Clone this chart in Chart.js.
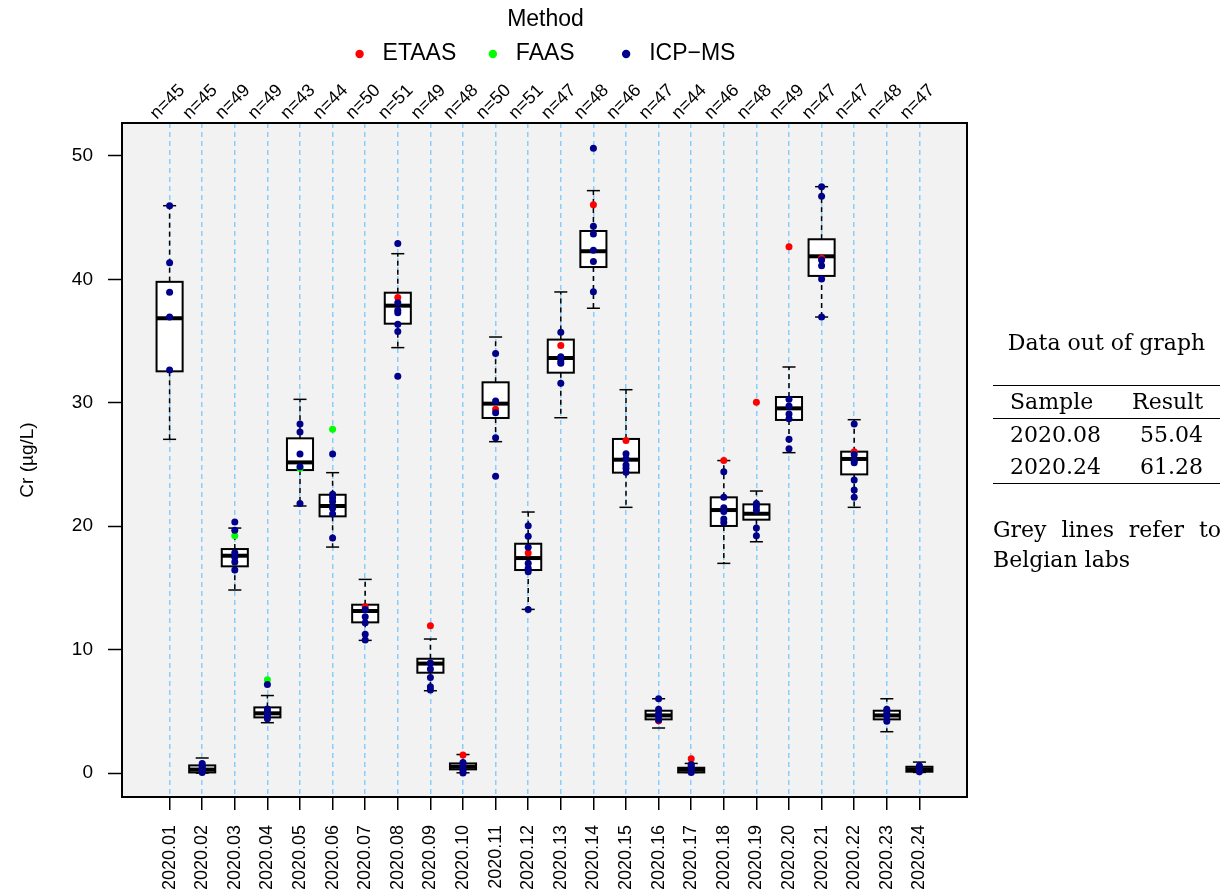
<!DOCTYPE html>
<html>
<head>
<meta charset="utf-8">
<script src="https://cdn.jsdelivr.net/npm/chart.js@4/dist/chart.umd.min.js"></script>
<style>
  html, body { margin: 0; padding: 0; background: #fff; }
  #wrap { position: relative; width: 1224px; height: 890px; }
  #crChart { position: absolute; left: 0; top: 0; }
  .side { position: absolute; font-family: "DejaVu Serif", serif; font-size: 22px; color: #000; }
  #sideTitle { left: 993px; top: 328px; width: 227px; line-height: 30px; text-align: center; }
  #outTable { left: 993px; top: 385px; width: 227px; border-collapse: collapse;
              border-top: 1.6px solid #000; border-bottom: 1.6px solid #000; line-height: 30px; }
  #outTable th, #outTable td { padding: 0; height: 32px; font-weight: normal; }
  #outTable thead th { border-bottom: 1px solid #000; }
  #outTable .c1 { text-align: left; padding-left: 17px; }
  #outTable .c2 { text-align: right; padding-right: 17px; }
  #note { left: 993px; top: 515px; width: 228px; line-height: 30px; text-align: justify; }
  #fontWarm { position: absolute; left: -1000px; top: 0; font-family: "Liberation Sans"; }
</style>
</head>
<body>
<div id="wrap">
  <canvas id="crChart" width="1224" height="890"></canvas>
  <div class="side" id="sideTitle">Data out of graph</div>
  <table class="side" id="outTable">
    <thead><tr><th class="c1">Sample</th><th class="c2">Result</th></tr></thead>
    <tbody id="outBody"></tbody>
  </table>
  <div class="side" id="note">Grey lines refer to Belgian labs</div>
  <span id="fontWarm">Method 2020.01</span>
</div>
<script>
// samples and number of labs
const categories = ['2020.01', '2020.02', '2020.03', '2020.04', '2020.05', '2020.06', '2020.07', '2020.08',
                    '2020.09', '2020.10', '2020.11', '2020.12', '2020.13', '2020.14', '2020.15', '2020.16',
                    '2020.17', '2020.18', '2020.19', '2020.20', '2020.21', '2020.22', '2020.23', '2020.24'];
const nLabs = [45, 45, 49, 49, 43, 44, 50, 51, 49, 48, 50, 51, 47, 48, 46, 47, 44, 46, 48, 49, 47, 47, 48, 47];
const yTicks = [0, 10, 20, 30, 40, 50];

// box statistics (µg/L)
const whiskerLow  = [27.04, 0.00, 14.83, 4.08, 21.64, 18.31, 10.75, 34.47, 6.67, 0.02, 26.85, 13.26,
                     28.79, 37.66, 21.53, 3.65, 0.05, 16.99, 18.74, 25.96, 36.95, 21.53, 3.35, 0.05];
const q1          = [32.55, 0.05, 16.75, 4.51, 24.55, 20.80, 12.21, 36.41, 8.13, 0.30, 28.77, 16.45,
                     32.44, 41.00, 24.34, 4.35, 0.05, 20.02, 20.53, 28.61, 40.28, 24.20, 4.35, 0.11];
const median      = [36.85, 0.28, 17.61, 4.84, 25.17, 21.64, 13.13, 37.87, 8.87, 0.51, 29.93, 17.42,
                     33.63, 42.28, 25.39, 4.67, 0.27, 21.31, 21.01, 29.55, 41.87, 25.45, 4.67, 0.29];
const q3          = [39.80, 0.62, 18.15, 5.32, 27.12, 22.55, 13.64, 38.92, 9.26, 0.78, 31.66, 18.58,
                     35.12, 43.92, 27.07, 5.05, 0.43, 22.34, 21.77, 30.47, 43.25, 26.04, 5.05, 0.51];
const whiskerHigh = [45.97, 1.22, 19.85, 6.28, 30.28, 24.34, 15.69, 42.08, 10.86, 1.50, 35.33, 21.15,
                     38.98, 47.19, 31.06, 6.02, 0.78, 25.32, 22.85, 32.90, 47.51, 28.63, 6.02, 0.89];

// Belgian lab results by method (one value per sample, null = none)
const etaas = [null, null, null, null, null, null, 13.48, 38.54, 11.94, 1.46, 29.47, 17.83,
               34.65, 46.05, 26.94, 4.24, 1.16, 25.32, 30.04, 42.65, 41.71, 26.04, null, null];
const faas  = [null, null, 19.23, 7.56, 24.69, 27.85, null, null, null, null, null, null,
               null, null, null, null, null, null, null, null, null, null, null, null];
const icpms = [
  [45.97, 41.35, 38.95, 36.95, 32.66],
  [0.05, 0.2, 0.3, 0.45, 0.6, 0.78],
  [20.34, 19.67, 17.85, 17.48, 17.1, 16.45],
  [7.17, 5.2, 5.0, 4.8, 4.6, 4.4],
  [28.28, 27.63, 25.85, 24.82, 21.85],
  [25.85, 22.6, 22.3, 22.0, 21.45, 20.99, 19.04],
  [13.26, 12.67, 12.18, 11.24, 10.78],
  [42.9, 38.1, 37.5, 37.3, 36.36, 35.77, 32.15],
  [8.92, 8.44, 7.75, 6.99, 6.73],
  [0.0, 0.2, 0.4, 0.6, 0.85],
  [34.0, 30.15, 29.2, 27.17, 24.04],
  [20.04, 19.18, 18.3, 16.99, 16.59, 16.31, 13.26],
  [35.71, 33.74, 33.39, 33.2, 31.58],
  [50.62, 44.3, 43.68, 42.36, 41.44, 39.0],
  [25.88, 25.47, 24.96, 24.69, 24.37],
  [6.02, 5.16, 4.8, 4.6, 4.3],
  [0.05, 0.2, 0.35, 0.55, 0.7],
  [24.42, 22.34, 21.5, 21.2, 20.58, 20.31],
  [21.85, 21.58, 21.3, 19.85, 19.23],
  [30.28, 29.74, 29.09, 28.71, 27.04, 26.28],
  [47.5, 46.73, 41.57, 41.11, 40.03, 36.95],
  [28.28, 25.82, 25.31, 25.15, 23.74, 22.93, 22.34],
  [5.16, 4.85, 4.6, 4.2],
  [0.1, 0.25, 0.4, 0.6]
];

// values too high for the plot
const outSamples = ['2020.08', '2020.24'];
const outResults = ['55.04', '61.28'];

const outBody = document.getElementById('outBody');
outSamples.forEach((s, i) => {
  const tr = document.createElement('tr');
  tr.innerHTML = '<td class="c1">' + s + '</td><td class="c2">' + outResults[i] + '</td>';
  outBody.appendChild(tr);
});

const singlePoints = arr => arr.map((v, i) => v === null ? null : {x: i + 1, y: v}).filter(p => p);
const multiPoints = arr => arr.flatMap((vals, i) => vals.map(v => ({x: i + 1, y: v})));

// axis ranges like R boxplot (4% extension)
const xMin = 0.5 - 0.04 * categories.length;
const xMax = categories.length + 0.5 + 0.04 * categories.length;
const yMin = -1.94, yMax = 52.67;

Chart.defaults.font.family = '"Liberation Sans", Arial, sans-serif';
Chart.defaults.color = '#000';

const boxPlugin = {
  id: 'boxPlugin',
  beforeDraw(chart) {
    const {ctx, chartArea: a} = chart;
    ctx.save();
    ctx.fillStyle = '#f2f2f2';
    ctx.fillRect(a.left, a.top, a.right - a.left, a.bottom - a.top);
    ctx.restore();
  },
  beforeDatasetsDraw(chart) {
    const {ctx} = chart;
    const xs = chart.scales.x, ys = chart.scales.y;
    const half = xs.getPixelForValue(1.4) - xs.getPixelForValue(1);
    const line = (x1, y1, x2, y2) => { ctx.beginPath(); ctx.moveTo(x1, y1); ctx.lineTo(x2, y2); ctx.stroke(); };
    ctx.save();
    ctx.strokeStyle = '#000';
    categories.forEach((c, i) => {
      const cx = xs.getPixelForValue(i + 1);
      const yLo = ys.getPixelForValue(whiskerLow[i]);
      const yQ1 = ys.getPixelForValue(q1[i]);
      const yMed = ys.getPixelForValue(median[i]);
      const yQ3 = ys.getPixelForValue(q3[i]);
      const yHi = ys.getPixelForValue(whiskerHigh[i]);
      // whiskers
      ctx.lineWidth = 1.5;
      ctx.setLineDash([5, 4]);
      line(cx, yQ3, cx, yHi);
      line(cx, yQ1, cx, yLo);
      ctx.setLineDash([]);
      line(cx - half / 2, yHi, cx + half / 2, yHi);
      line(cx - half / 2, yLo, cx + half / 2, yLo);
      // box
      ctx.fillStyle = '#fff';
      ctx.fillRect(cx - half, yQ3, half * 2, yQ1 - yQ3);
      ctx.lineWidth = 2;
      ctx.strokeRect(cx - half, yQ3, half * 2, yQ1 - yQ3);
      // median
      ctx.lineWidth = 4;
      line(cx - half, yMed, cx + half, yMed);
    });
    ctx.restore();
  },
  afterDatasetsDraw(chart) {
    const {ctx, chartArea: a} = chart;
    ctx.save();
    ctx.strokeStyle = '#000';
    ctx.lineWidth = 2;
    ctx.strokeRect(a.left, a.top, a.right - a.left, a.bottom - a.top);
    ctx.restore();
  },
  afterDraw(chart) {
    // legend in R style: title over equal-width columns
    const {ctx, chartArea: a} = chart;
    const cx = (a.left + a.right) / 2;
    ctx.save();
    ctx.font = '23px "Liberation Sans", Arial, sans-serif';
    ctx.fillStyle = '#000';
    ctx.textAlign = 'center';
    ctx.textBaseline = 'middle';
    ctx.fillText('Method', cx + 1, 20);
    const items = chart.data.datasets;
    const maxW = Math.max(...items.map(d => ctx.measureText(d.label).width));
    const colW = maxW + 47;
    const x0 = cx - 1.5 * colW + 4;
    ctx.textAlign = 'left';
    items.forEach((d, i) => {
      const colX = x0 + i * colW;
      ctx.fillStyle = d.backgroundColor;
      ctx.beginPath();
      ctx.arc(colX + 11, 54, 4.2, 0, Math.PI * 2);
      ctx.fill();
      ctx.fillStyle = '#000';
      ctx.fillText(d.label, colX + 34, 54);
    });
    ctx.restore();
  }
};

const noPad = s => { s.paddingLeft = 0; s.paddingRight = 0; s.paddingTop = 0; s.paddingBottom = 0; };
const catTicks = axis => { axis.ticks = categories.map((c, i) => ({value: i + 1})); };

function drawChart() {
  new Chart(document.getElementById('crChart'), {
    type: 'scatter',
    data: {
      datasets: [{
        label: 'ETAAS',
        data: singlePoints(etaas),
        backgroundColor: '#ff0000',
        order: 2
      }, {
        label: 'FAAS',
        data: singlePoints(faas),
        backgroundColor: '#00ff00',
        order: 1
      }, {
        label: 'ICP\u2212MS',
        data: multiPoints(icpms),
        backgroundColor: '#00008b',
        order: 0
      }]
    },
    options: {
      responsive: false,
      devicePixelRatio: 1,
      animation: false,
      events: [],
      layout: { padding: { left: 0, right: 257, top: 63, bottom: 0 } },
      elements: { point: { radius: 3.5, hoverRadius: 3.5, borderWidth: 0 } },
      plugins: { legend: { display: false }, tooltip: { enabled: false } },
      scales: {
        x: {
          type: 'linear',
          position: 'bottom',
          min: xMin,
          max: xMax,
          afterBuildTicks: catTicks,
          afterFit: s => { s.height = 93; noPad(s); },
          grid: { color: '#87cefa', lineWidth: 1.5, drawTicks: true, tickLength: 13,
                  tickColor: '#000', tickWidth: 1.5 },
          border: { display: false, dash: [5, 4] },
          ticks: {
            autoSkip: false, minRotation: 90, maxRotation: 90, padding: 15,
            font: { size: 18 },
            callback: (v, i) => categories[i]
          }
        },
        x2: {
          type: 'linear',
          position: 'top',
          min: xMin,
          max: xMax,
          afterBuildTicks: catTicks,
          afterFit: s => { s.height = 60; noPad(s); },
          grid: { display: false, drawTicks: false },
          border: { display: false },
          ticks: {
            autoSkip: false, minRotation: 45, maxRotation: 45, padding: -1, labelOffset: -1,
            font: { size: 18 },
            callback: (v, i) => 'n=' + nLabs[i]
          }
        },
        y: {
          type: 'linear',
          min: yMin,
          max: yMax,
          afterBuildTicks: axis => { axis.ticks = yTicks.map(v => ({value: v})); },
          afterFit: s => { s.width = 122; s.paddingTop = 0; s.paddingBottom = 0; },
          grid: { drawOnChartArea: false, drawTicks: true, tickLength: 14, tickColor: '#000', tickWidth: 1.5 },
          border: { display: false },
          title: { display: true, text: 'Cr (\u00b5g/L)', font: { size: 19 }, padding: { top: 16, bottom: 0 } },
          ticks: { padding: 15, font: { size: 19 } }
        }
      }
    },
    plugins: [boxPlugin]
  });
}

// make sure the canvas font is ready before drawing
Promise.all([
  document.fonts.load('18px "Liberation Sans"'),
  document.fonts.load('23px "Liberation Sans"')
]).then(drawChart, drawChart);
</script>
</body>
</html>
